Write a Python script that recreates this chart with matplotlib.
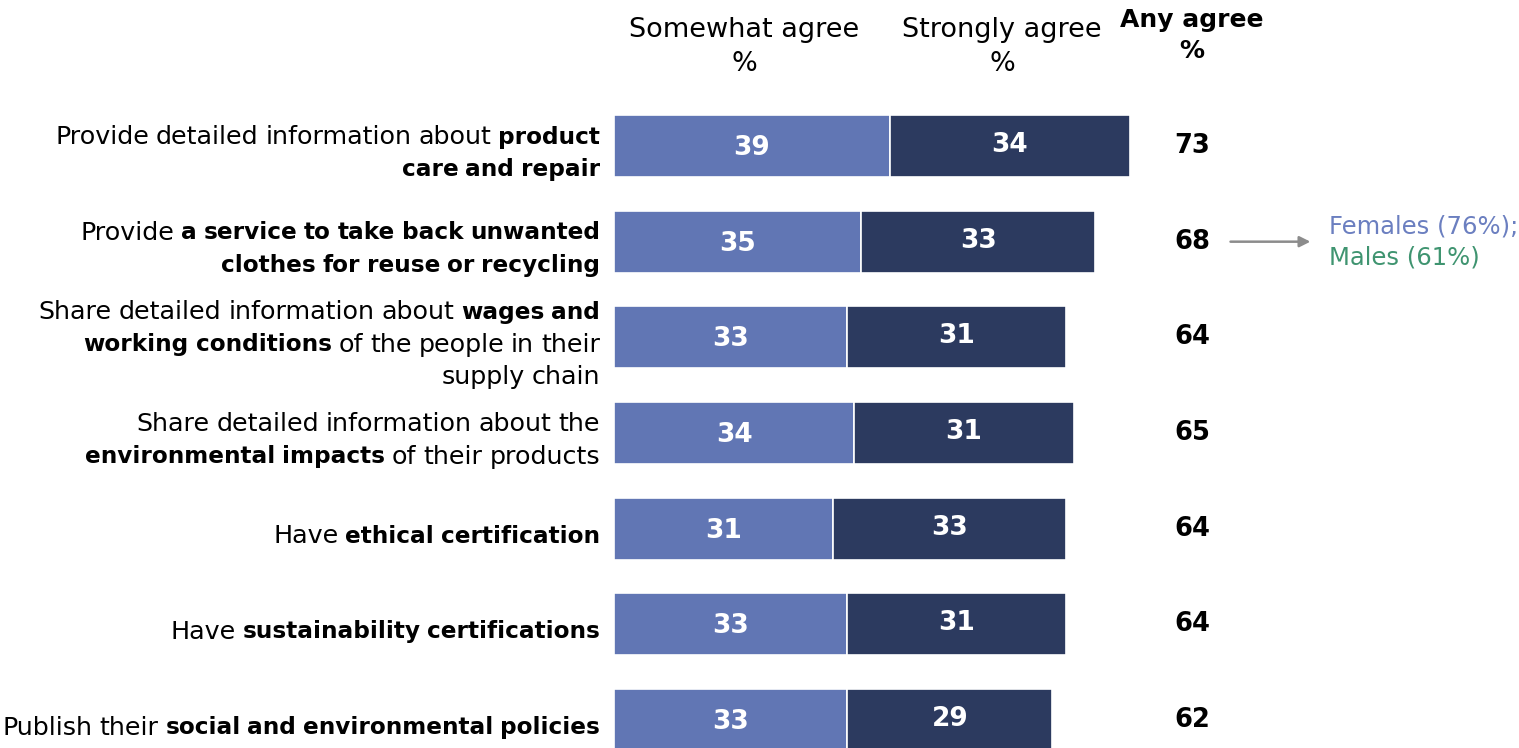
import matplotlib
matplotlib.use("Agg")
import matplotlib.pyplot as plt
from matplotlib.font_manager import FontProperties
from matplotlib.transforms import IdentityTransform

# Statements; text between ** markers is set in bold
categories = [
    "Provide detailed information about **product\ncare and repair**",
    "Provide **a service to take back unwanted\nclothes for reuse or recycling**",
    "Share detailed information about **wages and\nworking conditions** of the people in their\nsupply chain",
    "Share detailed information about the\n**environmental impacts** of their products",
    "Have **ethical certification**",
    "Have **sustainability certifications**",
    "Publish their **social and environmental policies**",
]
somewhat_agree = [39, 35, 33, 34, 31, 33, 33]
strongly_agree = [34, 33, 31, 31, 33, 31, 29]
any_agree = [73, 68, 64, 65, 64, 64, 62]

column_headers = [("Somewhat agree", "%"), ("Strongly agree", "%"), ("Any agree", "%")]
gender_note = ["Females (76%);", "Males (61%)"]

LIGHT = "#6176b4"
DARK = "#2c3a5f"
FEMALE_C = "#6b7fc0"
MALE_C = "#3f9470"
FONT = "DejaVu Sans"

W, H, DPI = 1519, 748, 100
fig = plt.figure(figsize=(W / DPI, H / DPI), dpi=DPI)
ax = fig.add_axes([0, 0, 1, 1])

px_per_unit = 7.07
bar_left_px = 614
row_px = 95.67
first_row_px = 146
ax.set_xlim(-bar_left_px / px_per_unit, (W - bar_left_px) / px_per_unit)
ax.set_ylim((H - first_row_px) / row_px, -first_row_px / row_px)
ax.axis("off")

rows = list(range(len(categories)))
bar_h = 0.65
ax.barh(rows, somewhat_agree, height=bar_h, color=LIGHT, edgecolor="white", linewidth=1.2)
ax.barh(rows, strongly_agree, left=somewhat_agree, height=bar_h, color=DARK,
        edgecolor="white", linewidth=1.2)

for i in rows:
    a, b = somewhat_agree[i], strongly_agree[i]
    ax.text(a / 2, i + 0.02, f"{a}", ha="center", va="center", color="white",
            fontsize=19, fontweight="bold", family=FONT)
    ax.text(a + b / 2, i - 0.01, f"{b}", ha="center", va="center", color="white",
            fontsize=19, fontweight="bold", family=FONT)
    ax.text(81.75, i, f"{any_agree[i]}", ha="center", va="center", color="black",
            fontsize=18.5, fontweight="bold", family=FONT)

# Column headers
for xc, (top, bottom) in zip([18.4, 54.9], column_headers[:2]):
    ax.text(xc, -1.213, top, ha="center", va="center", fontsize=19.5, family=FONT)
    ax.text(xc, -0.86, bottom, ha="center", va="center", fontsize=19.5, family=FONT)
ax.text(81.75, -1.317, column_headers[2][0], ha="center", va="center", fontsize=18,
        family=FONT, fontweight="bold")
ax.text(81.75, -0.99, column_headers[2][1], ha="center", va="center", fontsize=18,
        family=FONT, fontweight="bold")

# Gender split note next to the take-back row
ax.annotate("", xy=(98.5, 1.0), xytext=(87.2, 1.0),
            arrowprops=dict(arrowstyle="-|>", color="#8c8c8c", lw=1.8,
                            mutation_scale=16, shrinkA=0, shrinkB=0))
ax.text(101.2, 0.84, gender_note[0], ha="left", va="center", fontsize=17.5,
        family=FONT, color=FEMALE_C)
ax.text(101.2, 1.17, gender_note[1], ha="left", va="center", fontsize=17.5,
        family=FONT, color=MALE_C)

# Row labels with mixed regular / bold words, right-aligned
fig.canvas.draw()
renderer = fig.canvas.get_renderer()
fp_reg = FontProperties(family=FONT, size=18.3)
fp_bold = FontProperties(family=FONT, size=16.7, weight="bold")


def text_width(s, fp):
    w, _, _ = renderer.get_text_width_height_descent(s, fp, ismath=False)
    return w


def space_width(fp):
    return text_width("a a", fp) - text_width("aa", fp)


def parse(label):
    bold = False
    lines = []
    for line in label.split("\n"):
        words = []
        parts = line.split("**")
        for k, part in enumerate(parts):
            if k > 0:
                bold = not bold
            for w in part.split(" "):
                if w:
                    words.append((w, bold))
        lines.append(words)
    return lines


line_gap = 32.5  # pixels between baselines
right_x = -14 / px_per_unit
for i, label in enumerate(categories):
    lines = parse(label)
    n = len(lines)
    cx, cy = ax.transData.transform((right_x, i))
    for j, words in enumerate(lines):
        y = cy - ((j - (n - 1) / 2) * line_gap + 5)
        widths = [text_width(w, fp_bold if b else fp_reg) for w, b in words]
        gaps = [space_width(fp_bold if (b1 and b2) else fp_reg) * 0.85
                for (_, b1), (_, b2) in zip(words[:-1], words[1:])]
        total = sum(widths) + sum(gaps)
        x = cx - total
        for k, (w, b) in enumerate(words):
            fig.text(x, y, w, transform=IdentityTransform(), ha="left",
                     va="center_baseline", fontproperties=fp_bold if b else fp_reg,
                     color="black")
            x += widths[k] + (gaps[k] if k < len(gaps) else 0)

fig.savefig("out.png", dpi=DPI)
